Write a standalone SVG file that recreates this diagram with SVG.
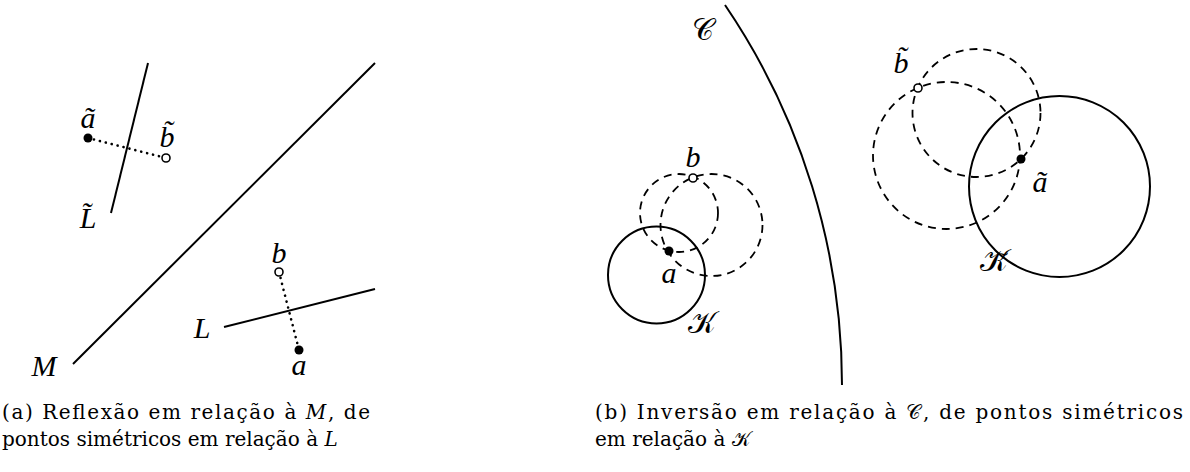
<svg xmlns="http://www.w3.org/2000/svg" width="1190" height="472" viewBox="0 0 1190 472">
<style>
.ln{stroke:#000;stroke-width:2;fill:none}
.dash{stroke:#000;stroke-width:1.8;fill:none;stroke-dasharray:8 6}
.dot{stroke:#000;stroke-width:2.6;fill:none;stroke-dasharray:0.1 6;stroke-linecap:round}
.full{fill:#000}
.open{fill:#fff;stroke:#000;stroke-width:1.6}
.lab{font-family:"Liberation Serif","DejaVu Serif",serif;font-style:italic;font-size:30px;fill:#000;text-anchor:middle}
.cal{font-family:"DejaVu Sans","Noto Sans","Liberation Serif",serif;font-size:30px;fill:#000;text-anchor:middle}
.cap{font-family:"DejaVu Serif","Liberation Serif",serif;font-size:20px;fill:#000}
.capi{font-style:italic}
</style>
<rect width="1190" height="472" fill="#fff"/>
<g id="connectors">
  <line class="ln" x1="73" y1="364" x2="375" y2="63"/>
  <line class="ln" x1="148" y1="63" x2="111" y2="213"/>
  <line class="ln" x1="224" y1="327" x2="375" y2="289"/>
  <line class="dot" x1="88" y1="138" x2="166" y2="158"/>
  <line class="dot" x1="279" y1="272" x2="299" y2="350"/>
  <path class="ln" d="M725 5 A676 676 0 0 1 842 385"/>
  <circle class="ln" cx="656.5" cy="275" r="48.5"/>
  <circle class="dash" cx="679" cy="213" r="39"/>
  <circle class="dash" cx="711.5" cy="225" r="51"/>
  <circle class="ln" cx="1059.5" cy="186.5" r="90.5"/>
  <circle class="dash" cx="976.5" cy="113" r="64"/>
  <circle class="dash" cx="946.5" cy="155.5" r="73.5"/>
</g>
<g id="node-M"><text class="lab" x="44" y="376">M</text></g>
<g id="node-Lt"><text class="lab" x="88" y="228">L̃</text></g>
<g id="node-L"><text class="lab" x="202" y="338">L</text></g>
<g id="node-at"><circle class="full" cx="88" cy="138" r="4.5"/><text class="lab" x="88" y="128">ã</text></g>
<g id="node-bt"><circle class="open" cx="166" cy="158" r="4"/><text class="lab" x="167" y="147">b̃</text></g>
<g id="node-b"><circle class="open" cx="279" cy="272" r="4"/><text class="lab" x="279" y="263">b</text></g>
<g id="node-a"><circle class="full" cx="299" cy="350" r="4.5"/><text class="lab" x="299" y="375">a</text></g>
<g id="node-C"><text class="cal" x="703" y="40">𝒞</text></g>
<g id="node-b2"><circle class="open" cx="693" cy="178" r="4"/><text class="lab" x="693" y="167">b</text></g>
<g id="node-a2"><circle class="full" cx="669" cy="251" r="4.5"/><text class="lab" x="669" y="283">a</text></g>
<g id="node-K"><text class="cal" x="702" y="333">𝒦</text></g>
<g id="node-bt2"><circle class="open" cx="918" cy="88" r="4"/><text class="lab" x="901" y="73">b̃</text></g>
<g id="node-at2"><circle class="full" cx="1021" cy="159" r="4.5"/><text class="lab" x="1040" y="192">ã</text></g>
<g id="node-Kt"><text class="cal" x="994" y="271">𝒦̃</text></g>
<g id="caption-a">
  <text class="cap" x="2" y="419" textLength="368" lengthAdjust="spacing">(a) Reflexão em relação à <tspan class="capi">M</tspan>, de</text>
  <text class="cap" x="2" y="446">pontos simétricos em relação à <tspan class="capi">L</tspan></text>
</g>
<g id="caption-b">
  <text class="cap" x="595" y="419" textLength="588" lengthAdjust="spacing">(b) Inversão em relação à <tspan font-family="DejaVu Sans,serif">𝒞</tspan>, de pontos simétricos</text>
  <text class="cap" x="595" y="446">em relação à <tspan font-family="DejaVu Sans,serif">𝒦</tspan></text>
</g>
</svg>
